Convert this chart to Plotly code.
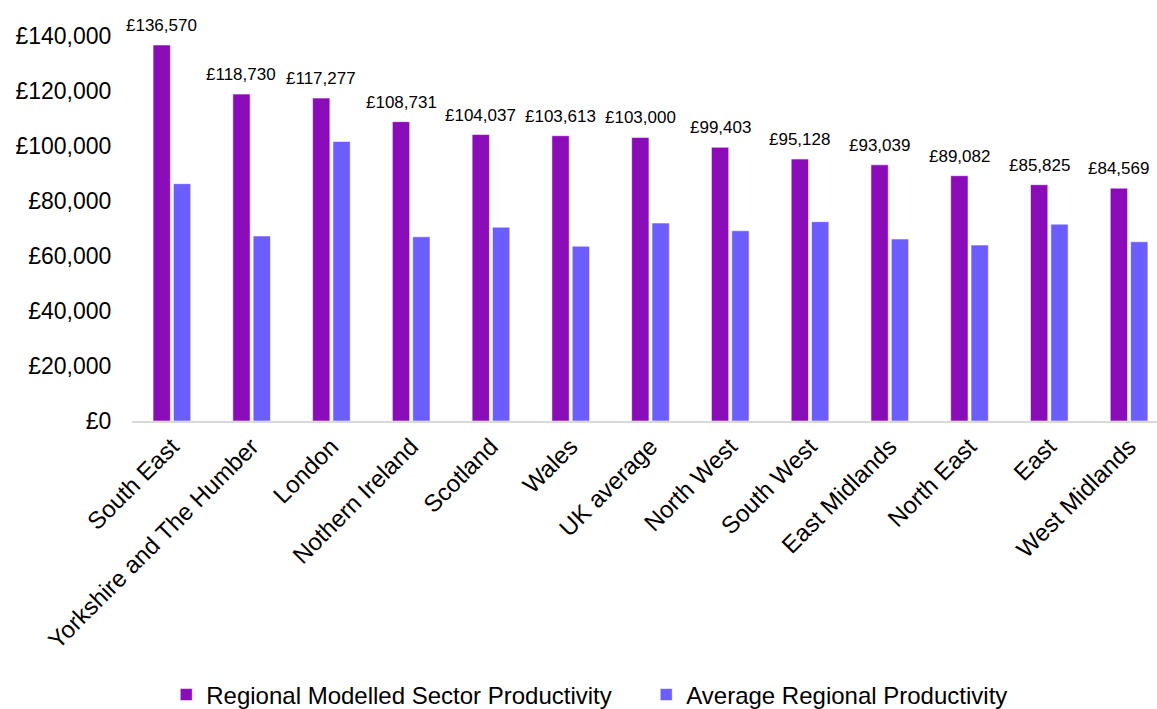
import plotly.graph_objects as go

regions = [
    "South East", "Yorkshire and The Humber", "London", "Nothern Ireland",
    "Scotland", "Wales", "UK average", "North West", "South West",
    "East Midlands", "North East", "East", "West Midlands",
]
modelled_productivity = [
    136570, 118730, 117277, 108731, 104037, 103613, 103000,
    99403, 95128, 93039, 89082, 85825, 84569,
]
average_productivity = [
    86200, 67200, 101500, 66900, 70400, 63500, 71900,
    69100, 72400, 66100, 63900, 71500, 65100,
]
y_ticks = [0, 20000, 40000, 60000, 80000, 100000, 120000, 140000]

PURPLE = "#8A0BB8"
BLUE = "#6C5DFD"
FONT = "Liberation Sans, Arial, sans-serif"
BARGAP = 0.49

fig = go.Figure()
fig.add_trace(go.Bar(
    name="Regional Modelled Sector Productivity",
    x=regions, y=modelled_productivity,
    marker=dict(color=PURPLE, line=dict(color="rgba(255,255,255,0.55)", width=1)),
))
fig.add_trace(go.Bar(
    name="Average Regional Productivity",
    x=regions, y=average_productivity,
    marker=dict(color=BLUE, line=dict(color="rgba(255,255,255,0.55)", width=1)),
))

# value labels above the purple bars
purple_offset = -(1 - BARGAP) / 4
for i, v in enumerate(modelled_productivity):
    fig.add_annotation(
        x=i + purple_offset, y=v, xref="x", yref="y",
        text=f"£{v:,}", showarrow=False,
        yanchor="bottom", yshift=8,
        font=dict(family=FONT, size=17, color="#000000"),
    )

fig.update_layout(
    width=1157, height=709,
    margin=dict(l=132, r=0, t=8, b=288, autoexpand=False),
    paper_bgcolor="white", plot_bgcolor="white",
    barmode="group", bargap=BARGAP, bargroupgap=0.15,
    font=dict(family=FONT, color="#000000"),
    showlegend=True,
    legend=dict(
        orientation="h", x=0.0334, xanchor="left",
        y=-0.6634, yanchor="middle",
        font=dict(family=FONT, size=24, color="#000000"),
        traceorder="normal", entrywidth=435, entrywidthmode="pixels",
        itemwidth=30,
    ),
    xaxis=dict(
        type="category", range=[-0.5, 12.35], tickangle=-45,
        tickfont=dict(family=FONT, size=24, color="#000000"),
        showline=True, linecolor="#d9d9d9", linewidth=2,
        ticks="", showgrid=False, automargin=False,
    ),
    yaxis=dict(
        range=[0, 150000], tickvals=y_ticks,
        ticktext=[f"£{t:,}" for t in y_ticks],
        tickfont=dict(family=FONT, size=23, color="#000000"),
        showgrid=False, zeroline=False, showline=False,
        ticks="outside", ticklen=15, tickcolor="rgba(0,0,0,0)",
        automargin=False,
    ),
)

fig.write_html("out.html")
